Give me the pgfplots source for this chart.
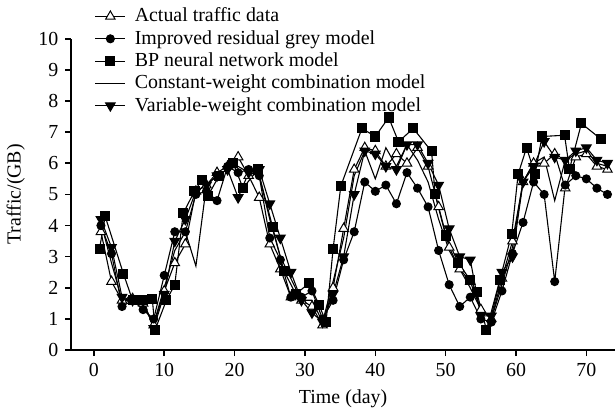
\documentclass[border=0pt]{standalone}
\usepackage{fontspec}
\setmainfont{Liberation Serif}
\usepackage{pgfplots}
\usepackage{pgfplotstable}
\pgfplotsset{compat=1.18}

% x, actual, grey model, constant-weight, variable-weight
\pgfplotstableread{
x    A    G    C    V
1    3.8  4.0  4.1  4.2
2.5  2.2  3.1  2.8  3.3
4    1.6  1.4  1.6  1.7
5.5  1.65 1.6  1.6  1.6
7    1.5  1.3  1.4  1.6
8.5  0.8  1.0  0.85 0.7
10   1.9  2.4  2.0  1.8
11.5 2.8  3.8  3.2  3.5
13   3.4  3.8  3.8  4.2
14.5 5.1  5.0  2.7  5.1
16   5.3  5.1  5.3  5.3
17.5 5.7  4.8  5.6  5.6
19   5.9  5.9  5.8  5.8
20.5 6.2  5.7  5.9  4.9
22   5.6  5.8  5.7  5.7
23.5 4.9  5.6  5.6  5.8
25   3.4  3.6  4.2  4.7
26.5 2.6  2.9  3.0  3.6
28   1.7  1.7  2.3  2.5
29.5 1.6  1.7  1.6  1.6
31   1.4  1.9  1.6  1.2
32.5 0.8  1.0  0.9  0.9
34   2.0  1.6  2.2  1.8
35.5 3.9  2.9  3.6  3.0
37   5.8  3.8  5.6  5.0
38.5 6.5  5.4  6.4  6.4
40   6.4  5.1  5.5  6.3
41.5 5.9  5.3  6.5  5.9
43   6.3  4.7  5.9  5.8
44.5 6.0  5.7  6.6  6.6
46   6.5  5.2  6.1  6.6
47.5 5.9  4.6  5.4  6.0
49   4.6  3.2  4.2  5.3
50.5 3.3  2.1  3.2  3.9
52   2.6  1.4  2.6  3.0
53.5 2.2  1.7  2.0  2.9
55   1.3  1.0  1.3  1.1
56.5 1.0  0.9  1.0  1.1
58   2.3  1.9  2.1  2.5
59.5 3.5  3.1  3.3  3.0
61   5.4  4.1  5.4  5.4
62.5 6.0  5.4  6.0  5.9
64   6.0  5.0  6.2  6.7
65.5 6.3  2.2  4.8  6.2
67   5.2  5.3  6.1  6.1
68.5 6.2  5.6  6.3  6.4
70   6.3  5.5  6.4  6.5
71.5 5.9  5.2  6.0  6.1
73   5.8  5.0  5.9  6.0
}\grid

% BP neural network model
\pgfplotstableread{
x    B
0.8  3.25
1.6  4.3
4.2  2.45
5.5  1.6
7    1.6
8.3  1.65
8.7  0.65
10.3 1.6
11.5 2.1
12.7 4.4
14.3 5.1
15.3 5.45
16.2 4.95
17.8 5.6
19.8 6.0
21.2 5.2
23.3 5.8
25.4 3.95
27   2.55
28.7 1.8
30.6 2.15
32   1.45
33   0.9
34   3.25
35.1 5.27
38.1 7.12
40   6.86
41.9 7.47
43.3 6.69
45.4 7.12
48   6.38
48.5 5.0
50   3.68
51.8 2.8
53.5 2.25
54.4 1.88
55.8 0.65
57.7 2.25
59.4 3.74
60.3 5.65
61.5 6.5
62.7 5.65
63.7 6.86
66.9 6.9
67.6 5.81
69.3 7.28
72.1 6.77
}\bp

\begin{document}
\fontsize{20}{24}\selectfont
\begin{tikzpicture}
\begin{axis}[
  scale only axis, width=547pt, height=313pt,
  xmin=-3.25, xmax=74.1, ymin=0, ymax=10,
  axis x line=bottom, axis y line=left,
  axis line style={-, line width=1.6pt},
  xtick={0,10,...,70}, ytick={0,1,...,10},
  tick align=outside, major tick length=6pt,
  tick style={line width=1.6pt, black},
  /pgf/number format/assume math mode=true,
  xlabel={Time (day)}, ylabel={Traffic/(GB)},
  legend style={at={(0.038,1.125)}, anchor=north west, draw=none, fill=none,
    inner ysep=6pt, row sep=1.5pt, column sep=7pt,
    font=\fontsize{20}{24}\selectfont},
  legend cell align=left,
  legend image code/.code={\draw[mark repeat=2,mark phase=2,#1]
    plot coordinates {(0pt,0pt)(15pt,0pt)(30pt,0pt)};},
  every axis plot/.append style={line width=1.1pt, black},
]
\addplot[mark=triangle*, mark options={fill=white, draw=black, mark size=5.5pt, line width=1pt}]
  table[x=x, y=A] {\grid};
\addplot[mark=*, mark options={fill=black, mark size=4pt}]
  table[x=x, y=G] {\grid};
\addplot[mark=square*, mark options={fill=black, mark size=4.5pt}]
  table[x=x, y=B] {\bp};
\addplot[no marks]
  table[x=x, y=C] {\grid};
\addplot[mark=triangle*, mark options={fill=black, rotate=180, mark size=5.5pt}]
  table[x=x, y=V] {\grid};
\legend{Actual traffic data, Improved residual grey model, BP neural network model,
  Constant-weight combination model, Variable-weight combination model}
\end{axis}
\end{tikzpicture}
\end{document}
